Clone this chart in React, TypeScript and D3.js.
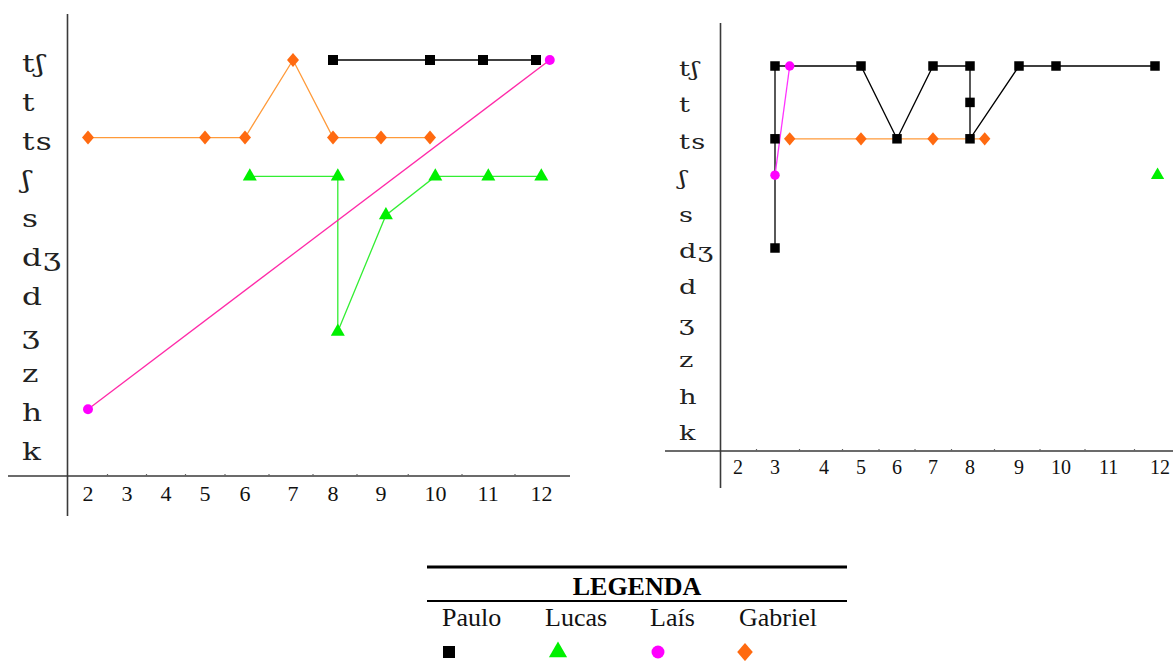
import React from "react";
import * as d3 from "d3";

// ---------- data ----------
const levels = ["tʃ", "t", "ts", "ʃ", "s", "dʒ", "d", "ʒ", "z", "h", "k"];
const xTicks = [2, 3, 4, 5, 6, 7, 8, 9, 10, 11, 12];

// left chart
const pauloA = [
  { x: 8, y: "tʃ" }, { x: 10, y: "tʃ" }, { x: 11, y: "tʃ" }, { x: 12, y: "tʃ" },
];
const lucasA = [
  { x: 6.1, y: "ʃ" }, { x: 8.1, y: "ʃ" }, { x: 8.1, y: "ʒ" }, { x: 9.1, y: "s" },
  { x: 10.1, y: "ʃ" }, { x: 11.1, y: "ʃ" }, { x: 12.1, y: "ʃ" },
];
const laisA = [{ x: 2, y: "h" }, { x: 12.26, y: "tʃ" }];
const gabrielA = [
  { x: 2, y: "ts" }, { x: 5, y: "ts" }, { x: 6, y: "ts" }, { x: 7, y: "tʃ" },
  { x: 8, y: "ts" }, { x: 9, y: "ts" }, { x: 10, y: "ts" },
];

// right chart
const pauloB = [
  { x: 3, y: "dʒ" }, { x: 3, y: "ts" }, { x: 3, y: "tʃ" }, { x: 5, y: "tʃ" },
  { x: 6, y: "ts" }, { x: 7, y: "tʃ" }, { x: 8, y: "tʃ" }, { x: 8, y: "t" },
  { x: 8, y: "ts" }, { x: 9, y: "tʃ" }, { x: 10, y: "tʃ" }, { x: 12, y: "tʃ" },
];
const lucasB = [{ x: 12.05, y: "ʃ" }];
const laisB = [{ x: 3, y: "ʃ" }, { x: 3.3, y: "tʃ" }];
const gabrielB = [
  { x: 3.3, y: "ts" }, { x: 5, y: "ts" }, { x: 7, y: "ts" }, { x: 8.3, y: "ts" },
];

const legendNames = ["Paulo", "Lucas", "Laís", "Gabriel"];

// ---------- styles ----------
type Pt = { x: number; y: string };
type Style = { marker: string; fill: string; line: string };
const styles: Record<string, Style> = {
  Paulo: { marker: "square", fill: "#000000", line: "#000000" },
  Lucas: { marker: "triangle", fill: "#00f000", line: "#33ee33" },
  Laís: { marker: "circle", fill: "#ff00ff", line: "#ff2aa8" },
  Gabriel: { marker: "diamond", fill: "#ff6a10", line: "#ff9a3a" },
};

function markerPath(kind: string, scale = 1): string {
  if (kind === "square") return d3.symbol(d3.symbolSquare, 100 * scale * scale)()!;
  if (kind === "triangle") return d3.symbol(d3.symbolTriangle, 85 * scale * scale)()!;
  if (kind === "circle") return d3.symbol(d3.symbolCircle, 78 * scale * scale)()!;
  const w = 6 * scale, h = 7 * scale;
  return `M0,${-h}L${w},0L0,${h}L${-w},0Z`;
}

type ChartCfg = {
  xRange: number[];
  yRange: [number, number];
  axisX: number;
  axisY: number;
  yAxisTop: number;
  yAxisBottom: number;
  xAxisLeft: number;
  xAxisRight: number;
  yLabelX: number;
  yLabelFont: number;
  yLabelDy: number;
  xLabelY: number;
  xLabelFont: number;
  markerScale: number;
  series: { name: string; data: Pt[]; line?: string }[];
};

function Chart({ cfg }: { cfg: ChartCfg }) {
  const x = d3.scaleLinear().domain(xTicks).range(cfg.xRange);
  const y = d3.scalePoint<string>().domain(levels).range(cfg.yRange);
  const line = d3
    .line<Pt>()
    .x((d) => x(d.x))
    .y((d) => y(d.y)!);
  const digitHalf = cfg.xLabelFont * 0.25;
  const labelCenter = (v: number) => x(v) - digitHalf + (String(v).length * cfg.xLabelFont * 0.5) / 2;
  const tickPos = xTicks.slice(0, -1).map((v, i) => (labelCenter(v) + labelCenter(xTicks[i + 1])) / 2);
  return (
    <g>
      {/* axes */}
      <line x1={cfg.axisX} x2={cfg.axisX} y1={cfg.yAxisTop} y2={cfg.yAxisBottom} stroke="#3a3a3a" strokeWidth={1.6} />
      <line x1={cfg.xAxisLeft} x2={cfg.xAxisRight} y1={cfg.axisY} y2={cfg.axisY} stroke="#3a3a3a" strokeWidth={1.6} />
      {tickPos.map((t, i) => (
        <line key={"t" + i} x1={t} x2={t} y1={cfg.axisY} y2={cfg.axisY - 2} stroke="#666" strokeWidth={1.2} />
      ))}
      {levels.map((l) => (
        <text
          key={l}
          transform={`translate(${cfg.yLabelX},${y(l)! + cfg.yLabelDy}) scale(1.3,1)`}
          fontFamily="DejaVu Serif"
          fontSize={cfg.yLabelFont}
          letterSpacing={1}
          fill="#222"
        >
          {l}
        </text>
      ))}
      {xTicks.map((v) => (
        <text
          key={v}
          x={x(v) - digitHalf}
          y={cfg.xLabelY}
          fontFamily="Liberation Serif"
          fontSize={cfg.xLabelFont}
          fill="#111"
        >
          {v}
        </text>
      ))}
      {/* lines */}
      {cfg.series.map((s) => (
        <path
          key={s.name + "l"}
          d={line(s.data)!}
          fill="none"
          stroke={s.line ?? styles[s.name].line}
          strokeWidth={1.3}
        />
      ))}
      {/* markers */}
      {cfg.series.map((s) =>
        s.data.map((d, i) => (
          <path
            key={s.name + i}
            d={markerPath(styles[s.name].marker, cfg.markerScale)}
            transform={`translate(${x(d.x)},${y(d.y)})`}
            fill={styles[s.name].fill}
          />
        ))
      )}
    </g>
  );
}

const leftCfg: ChartCfg = {
  xRange: [88, 127, 166, 205, 245, 293, 333, 381, 430, 483, 536],
  yRange: [60, 448],
  axisX: 67.5,
  axisY: 476,
  yAxisTop: 14,
  yAxisBottom: 516,
  xAxisLeft: 8,
  xAxisRight: 570,
  yLabelX: 22,
  yLabelFont: 24,
  yLabelDy: 12,
  xLabelY: 500.5,
  xLabelFont: 22,
  markerScale: 1,
  series: [
    { name: "Gabriel", data: gabrielA },
    { name: "Lucas", data: lucasA },
    { name: "Laís", data: laisA },
    { name: "Paulo", data: pauloA },
  ],
};

const rightCfg: ChartCfg = {
  xRange: [738, 775, 824, 861, 897, 933, 970, 1019, 1056, 1104, 1155],
  yRange: [66, 430],
  axisX: 720.5,
  axisY: 451,
  yAxisTop: 23,
  yAxisBottom: 488,
  xAxisLeft: 665,
  xAxisRight: 1173,
  yLabelX: 679,
  yLabelFont: 21,
  yLabelDy: 10,
  xLabelY: 474,
  xLabelFont: 20,
  markerScale: 0.95,
  series: [
    { name: "Gabriel", data: gabrielB },
    { name: "Lucas", data: lucasB },
    { name: "Paulo", data: pauloB },
    { name: "Laís", data: laisB, line: "#ff33ff" },
  ],
};

function Legend() {
  const nameX = [442, 545, 650, 739];
  const markX = [449, 558, 658, 745];
  return (
    <g fontFamily="Liberation Serif">
      <line x1={427} x2={847} y1={567} y2={567} stroke="#000" strokeWidth={3} />
      <text x={637} y={595} textAnchor="middle" fontWeight="bold" fontSize={26}>
        LEGENDA
      </text>
      <line x1={427} x2={847} y1={601} y2={601} stroke="#000" strokeWidth={2.2} />
      {legendNames.map((n, i) => (
        <g key={n}>
          <text x={nameX[i]} y={626} fontSize={26} fill="#111">
            {n}
          </text>
          <path
            d={markerPath(styles[n].marker, n === "Paulo" ? 1.2 : 1.3)}
            transform={`translate(${markX[i]},${652})`}
            fill={styles[n].fill}
          />
        </g>
      ))}
    </g>
  );
}

export default function App() {
  return (
    <svg
      width={1173}
      height={661}
      style={{ position: "absolute", left: 0, top: 0, background: "#fff" }}
    >
      <Chart cfg={leftCfg} />
      <Chart cfg={rightCfg} />
      <Legend />
    </svg>
  );
}
